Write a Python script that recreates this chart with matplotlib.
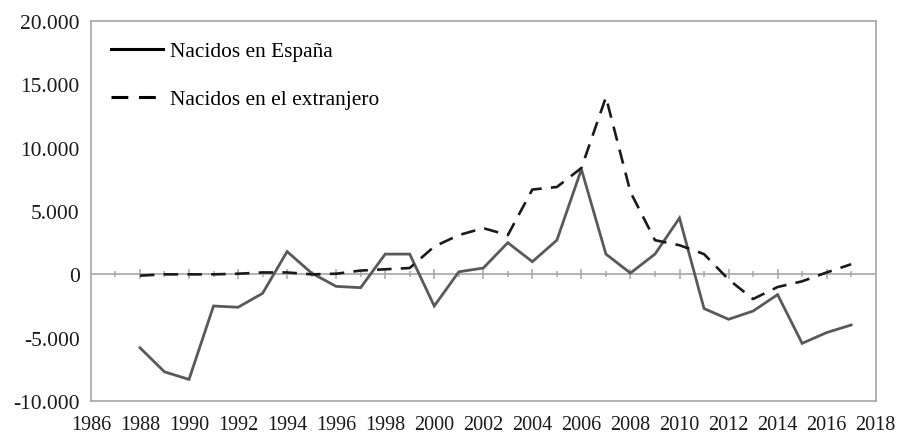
import numpy as np
import matplotlib.pyplot as plt
from matplotlib.lines import Line2D
from matplotlib.ticker import FuncFormatter

# data
years = list(range(1988, 2018))
espana = [-5800, -7700, -8300, -2500, -2600, -1500, 1800, 100, -950, -1050,
          1600, 1600, -2500, 200, 500, 2500, 1000, 2700, 8300, 1600,
          100, 1600, 4450, -2700, -3550, -2900, -1600, -5450, -4600, -4000]
extranjero = [-100, 0, 0, 0, 50, 150, 150, 0, 50, 300,
              400, 500, 2200, 3100, 3650, 3100, 6700, 6900, 8400, 14000,
              6500, 2700, 2300, 1600, -400, -1950, -1000, -550, 150, 800]

LABEL_ES = "Nacidos en España"
LABEL_EX = "Nacidos en el extranjero"

plt.rcParams["font.family"] = ["Liberation Serif", "DejaVu Serif"]
plt.rcParams["font.size"] = 14.5

fig = plt.figure(figsize=(9, 4.35), dpi=100)
ax = fig.add_axes([0.101, 0.076, 0.872, 0.873])

frame_col = "#a6a6a6"
dash = (0, (5.5, 3.5))

ax.plot(years, espana, color="#595959", linewidth=2.0, solid_joinstyle="miter", zorder=3)
ax.plot(years, extranjero, color="#1a1a1a", linewidth=1.9, linestyle=dash, zorder=4)

# horizontal axis line at zero with cross ticks for each year
ax.axhline(0, color=frame_col, linewidth=1.2, zorder=2)
all_years = np.arange(1987, 2018)
major = all_years[all_years % 2 == 0]
minor = all_years[all_years % 2 == 1]
ax.plot(major, np.zeros(len(major)), linestyle="none", marker="|", markersize=7,
        markeredgewidth=1.1, color=frame_col, zorder=2)
ax.plot(minor, np.zeros(len(minor)), linestyle="none", marker="|", markersize=4.5,
        markeredgewidth=1.1, color=frame_col, zorder=2)

ax.set_xlim(1986, 2018)
ax.set_ylim(-10000, 20000)
ax.set_xticks(np.arange(1986, 2019, 2))
ax.set_yticks(np.arange(-10000, 20001, 5000))
ax.yaxis.set_major_formatter(FuncFormatter(lambda v, p: f"{int(v):,}".replace(",", ".")))
ax.tick_params(axis="both", length=0, colors="#1a1a1a")
ax.tick_params(axis="x", pad=10)
ax.tick_params(axis="y", pad=8, labelsize=15.5)

for s in ax.spines.values():
    s.set_color(frame_col)
    s.set_linewidth(1.2)

handles = [
    Line2D([0], [0], color="black", linewidth=2.2, label=LABEL_ES),
    Line2D([0], [0], color="black", linewidth=2.2, linestyle=(0, (5.5, 3.5)), label=LABEL_EX),
]
ax.legend(handles=handles, loc="upper left", bbox_to_anchor=(0.0, 1.0), frameon=False,
          handlelength=2.4, handletextpad=0.33, labelspacing=1.3,
          borderaxespad=0.55, fontsize=15.4)

fig.savefig("out.png", dpi=100)
